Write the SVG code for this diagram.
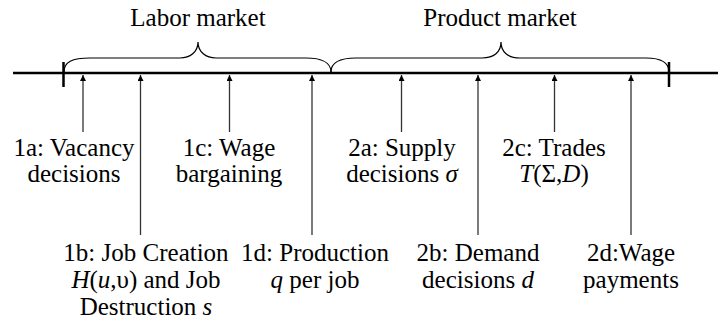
<svg xmlns="http://www.w3.org/2000/svg" width="718" height="329" viewBox="0 0 718 329">
<style>
text{font-size:25px;fill:#000;text-anchor:middle}
.i{font-style:italic}
.axis{stroke:#000;stroke-width:2.5;fill:none}
.brace{stroke:#000;stroke-width:1.2;fill:none}
.arr{stroke:#333;stroke-width:1.3;fill:none;marker-end:url(#ah)}
</style>
<defs>
<marker id="ah" viewBox="0 0 10 10" refX="10" refY="5" markerWidth="6" markerHeight="6" markerUnits="userSpaceOnUse" orient="auto">
<path d="M0,0 L10,5 L0,10 z" fill="#000"/>
</marker>
</defs>
<rect width="718" height="329" fill="#fff"/>
<g id="timeline">
<line class="axis" x1="13" y1="73" x2="718" y2="73"/>
<line class="axis" x1="63.5" y1="62" x2="63.5" y2="87"/>
<line class="axis" x1="669" y1="62" x2="669" y2="87"/>
</g>
<g font-family="Liberation Serif, Times New Roman, DejaVu Serif, Noto Serif, serif">
<g id="labor-market">
<path class="brace" d="M64,72 C64,62 72,58 90,58 L180,58 C190,58 198,52 198,42 C198,52 206,58 216,58 L306,58 C320,58 331,62 331,72"/>
<text x="198" y="26">Labor market</text>
</g>
<g id="product-market">
<path class="brace" d="M331,72 C331,62 340,58 356,58 L482,58 C494,58 501,52 501,42 C501,52 508,58 520,58 L646,58 C660,58 669,62 669,72"/>
<text x="500" y="26">Product market</text>
</g>
<g id="connectors">
<line class="arr" x1="83" y1="132" x2="83" y2="75"/>
<line class="arr" x1="140.5" y1="235" x2="140.5" y2="75"/>
<line class="arr" x1="229.5" y1="132" x2="229.5" y2="75"/>
<line class="arr" x1="312" y1="235" x2="312" y2="75"/>
<line class="arr" x1="401.5" y1="132" x2="401.5" y2="75"/>
<line class="arr" x1="478" y1="235" x2="478" y2="75"/>
<line class="arr" x1="554.5" y1="132" x2="554.5" y2="75"/>
<line class="arr" x1="631" y1="235" x2="631" y2="75"/>
</g>
<g id="n1a">
<text x="74" y="156">1a: Vacancy</text>
<text x="74" y="182">decisions</text>
</g>
<g id="n1b">
<text x="146" y="261">1b: Job Creation</text>
<text x="146" y="288"><tspan class="i">H</tspan>(<tspan class="i">u</tspan>,υ) and Job</text>
<text x="146" y="315">Destruction <tspan class="i">s</tspan></text>
</g>
<g id="n1c">
<text x="229" y="156">1c: Wage</text>
<text x="229" y="182">bargaining</text>
</g>
<g id="n1d">
<text x="315" y="261">1d: Production</text>
<text x="315" y="288"><tspan class="i">q</tspan> per job</text>
</g>
<g id="n2a">
<text x="402" y="156">2a: Supply</text>
<text x="402" y="182">decisions <tspan class="i">σ</tspan></text>
</g>
<g id="n2b">
<text x="478" y="261">2b: Demand</text>
<text x="478" y="288">decisions <tspan class="i">d</tspan></text>
</g>
<g id="n2c">
<text x="554" y="156">2c: Trades</text>
<text x="554" y="182"><tspan class="i">T</tspan>(Σ,<tspan class="i">D</tspan>)</text>
</g>
<g id="n2d">
<text x="631" y="261">2d:Wage</text>
<text x="631" y="288">payments</text>
</g>
</g>
</svg>
